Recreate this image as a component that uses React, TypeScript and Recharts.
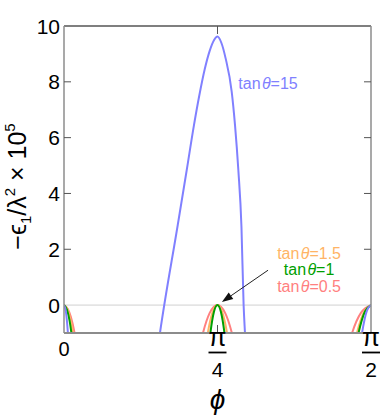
import React from "react";
import {
  LineChart,
  Line,
  XAxis,
  YAxis,
  ReferenceLine,
  ReferenceDot,
  Label,
} from "recharts";

const PI = Math.PI;

// x ticks (radians) and y ticks
const xTicks = [0, PI / 4, PI / 2];
const xTickNum = ["0", "π", "π"];
const xTickDen = ["", "4", "2"];
const yTicks = [0, 2, 4, 6, 8, 10];

// tanθ = 15 (blue)
const phiBlue = [0, 0.01, 0.02, 0.03, 0.25, 0.471, 0.491, 0.582, 0.628, 0.665, 0.692, 0.72, 0.745, 0.768, 0.785, 0.805, 0.827, 0.858, 0.875, 0.892, 0.908, 0.919, 0.926, 0.934, 1.2, 1.505, 1.525, 1.55, 1.5708];
const epsBlue = [0, -0.25, -1.0, -2.2, null, -2.0, -1.0, 2.87, 4.84, 6.45, 7.5, 8.45, 9.1, 9.5, 9.62, 9.4, 8.84, 7.65, 6.45, 4.84, 2.8, 0, -1.0, -2.0, null, -2.0, -1.0, -0.2, 0];

// tanθ = 0.5 (red)
const phiRed = [0, 0.02, 0.035, 0.054, 0.07, 0.3, 0.685, 0.711, 0.745, 0.785, 0.825, 0.859, 0.885, 1.2, 1.45, 1.474, 1.52, 1.5708];
const epsRed = [0, -0.15, -0.42, -1.0, -1.7, null, -1.8, -1.0, -0.29, 0, -0.29, -1.0, -1.8, null, -1.6, -1.0, -0.27, 0];

// tanθ = 1.5 (orange)
const phiOrange = [0, 0.02, 0.035, 0.046, 0.06, 0.3, 0.72, 0.736, 0.76, 0.785, 0.81, 0.834, 0.85, 1.2, 1.48, 1.499, 1.535, 1.5708];
const epsOrange = [0, -0.19, -0.58, -1.0, -1.7, null, -1.8, -1.0, -0.26, 0, -0.26, -1.0, -1.8, null, -1.6, -1.0, -0.25, 0];

// tanθ = 1 (green)
const phiGreen = [0, 0.015, 0.028, 0.038, 0.05, 0.3, 0.735, 0.749, 0.767, 0.785, 0.803, 0.821, 0.835, 1.2, 1.49, 1.507, 1.54, 1.5708];
const epsGreen = [0, -0.16, -0.54, -1.0, -1.7, null, -1.9, -1.0, -0.25, 0, -0.25, -1.0, -1.9, null, -1.6, -1.0, -0.23, 0];

const BLUE = "#8080ff";
const RED = "#ff8080";
const ORANGE = "#ffb466";
const GREEN = "#00a000";
const FRAME = "#8c8c8c";
const TICK = "#555";
const FONT = "'Liberation Sans', Arial, sans-serif";

const rows = (xs: number[], ys: (number | null)[]) =>
  xs.map((x, i) => ({ phi: x, v: ys[i] }));

const LeftTick = (props: any) => {
  const { x, y, payload } = props;
  const ax = x + 4;
  return (
    <g>
      <text x={x} y={y} dy="0.36em" textAnchor="end" fontSize={21} fontFamily={FONT} fill="#000">
        {payload.value}
      </text>
      {payload.value !== 10 && payload.value !== 0 ? (
        <line x1={ax} x2={ax + 7} y1={y} y2={y} stroke={TICK} strokeWidth={1} />
      ) : null}
    </g>
  );
};

const RightTick = (props: any) => {
  const { x, y, payload } = props;
  if (payload.value === 10 || payload.value === 0) return <g />;
  return <line x1={x} x2={x - 7} y1={y} y2={y} stroke={TICK} strokeWidth={1} />;
};

const BottomTick = (props: any) => {
  const { x, y, index } = props;
  const num = xTickNum[index];
  const den = xTickDen[index];
  return (
    <g fontFamily={FONT}>
      {index === 1 ? <line x1={x} x2={x} y1={y} y2={y - 8} stroke={TICK} strokeWidth={1} /> : null}
      {den === "" ? (
        <text x={x} y={y + 23} textAnchor="middle" fontSize={20} fill="#000">
          {num}
        </text>
      ) : (
        <g>
          <text x={x} y={y + 12.5} textAnchor="middle" fontSize={26} fill="#000">
            {num}
          </text>
          <line x1={x - 9} x2={x + 9} y1={y + 19.5} y2={y + 19.5} stroke="#000" strokeWidth={1.8} />
          <text x={x} y={y + 44} textAnchor="middle" fontSize={21} fill="#000">
            {den}
          </text>
        </g>
      )}
    </g>
  );
};

const TopTick = (props: any) => {
  const { x, y, index } = props;
  if (index !== 1) return <g />;
  return <line x1={x} x2={x} y1={y} y2={y + 8} stroke={TICK} strokeWidth={1} />;
};

const annot = (text: string, val: string, color: string) => (p: any) => (
  <text x={p.cx} y={p.cy} dy="0.35em" textAnchor="middle" fontSize={16} fontFamily={FONT} fill={color}>
    {text}
    <tspan fontStyle="italic">θ</tspan>={val}
  </text>
);

const Arrow = (p: any) => {
  const { x1, y1, x2, y2 } = p;
  const dx = x2 - x1;
  const dy = y2 - y1;
  const L = Math.sqrt(dx * dx + dy * dy) || 1;
  const ux = dx / L;
  const uy = dy / L;
  const hl = 11;
  const hw = 4;
  const bx = x2 - ux * hl;
  const by = y2 - uy * hl;
  return (
    <g>
      <line x1={x1} y1={y1} x2={bx} y2={by} stroke="#222" strokeWidth={1} />
      <polygon
        points={`${x2},${y2} ${bx - uy * hw},${by + ux * hw} ${bx + uy * hw},${by - ux * hw}`}
        fill="#111"
      />
    </g>
  );
};

const YLabel = (props: any) => {
  const vb = props.viewBox || { x: 0, y: 26, width: 64, height: 307 };
  const cx = 26;
  const cy = vb.y + vb.height / 2 + 7;
  return (
    <text
      transform={`translate(${cx},${cy}) rotate(-90)`}
      x={0}
      y={0}
      textAnchor="middle"
      fontSize={25}
      fontFamily={FONT}
      fill="#000"
    >
      −ϵ
      <tspan fontSize={15} dy={5}>1</tspan>
      <tspan dy={-5}>/λ</tspan>
      <tspan fontSize={15} dy={-11}>2</tspan>
      <tspan dy={11}> × 10</tspan>
      <tspan fontSize={15} dy={-11}>5</tspan>
    </text>
  );
};

const XLabel = (props: any) => {
  const vb = props.viewBox || { x: 64, y: 333, width: 307, height: 82 };
  return (
    <text
      x={vb.x + vb.width / 2}
      y={vb.y + 76}
      textAnchor="middle"
      fontSize={28}
      fontStyle="italic"
      fontFamily={FONT}
      fill="#000"
    >
      ϕ
    </text>
  );
};

export default function App() {
  return (
    <div style={{ position: "absolute", left: 0, top: 0, width: 382, height: 415 }}>
      <LineChart
        width={382}
        height={415}
        margin={{ top: 25, right: 10, left: 0, bottom: 0 }}
      >
        <XAxis
          xAxisId="b"
          type="number"
          dataKey="phi"
          domain={[0, PI / 2]}
          ticks={xTicks}
          allowDataOverflow
          height={82}
          tickSize={0}
          tickMargin={0}
          tickLine={false}
          axisLine={{ stroke: FRAME, strokeWidth: 2 }}
          tick={<BottomTick />}
          interval={0}
        >
          <Label content={<XLabel />} />
        </XAxis>
        <XAxis
          xAxisId="t"
          orientation="top"
          type="number"
          dataKey="phi"
          domain={[0, PI / 2]}
          ticks={xTicks}
          allowDataOverflow
          height={1}
          tickSize={0}
          tickMargin={0}
          tickLine={false}
          axisLine={{ stroke: "#555", strokeWidth: 1.5 }}
          tick={<TopTick />}
          interval={0}
        />
        <YAxis
          yAxisId="l"
          type="number"
          domain={[-1, 10]}
          ticks={yTicks}
          allowDataOverflow
          width={64}
          tickSize={0}
          tickMargin={4}
          tickLine={false}
          axisLine={{ stroke: FRAME, strokeWidth: 1.5 }}
          tick={<LeftTick />}
          interval={0}
        >
          <Label content={<YLabel />} />
        </YAxis>
        <YAxis
          yAxisId="r"
          orientation="right"
          type="number"
          domain={[-1, 10]}
          ticks={yTicks}
          allowDataOverflow
          width={1}
          tickSize={0}
          tickMargin={0}
          tickLine={false}
          axisLine={{ stroke: FRAME, strokeWidth: 1.5 }}
          tick={<RightTick />}
          interval={0}
        />
        <ReferenceLine xAxisId="b" yAxisId="l" y={0} stroke="#d0d0d0" strokeWidth={1} />
        <Line
          xAxisId="b"
          yAxisId="l"
          data={rows(phiRed, epsRed)}
          dataKey="v"
          type="monotone"
          stroke={RED}
          strokeWidth={2}
          dot={false}
          connectNulls={false}
          isAnimationActive={false}
        />
        <Line
          xAxisId="b"
          yAxisId="l"
          data={rows(phiOrange, epsOrange)}
          dataKey="v"
          type="monotone"
          stroke={ORANGE}
          strokeWidth={2}
          dot={false}
          connectNulls={false}
          isAnimationActive={false}
        />
        <Line
          xAxisId="b"
          yAxisId="l"
          data={rows(phiGreen, epsGreen)}
          dataKey="v"
          type="monotone"
          stroke={GREEN}
          strokeWidth={2}
          dot={false}
          connectNulls={false}
          isAnimationActive={false}
        />
        <Line
          xAxisId="b"
          yAxisId="l"
          data={rows(phiBlue, epsBlue)}
          dataKey="v"
          type="monotone"
          stroke={BLUE}
          strokeWidth={2}
          dot={false}
          connectNulls={false}
          isAnimationActive={false}
        />
        <ReferenceLine
          xAxisId="b"
          yAxisId="l"
          segment={[
            { x: 1.044, y: 1.25 },
            { x: 0.808, y: 0.11 },
          ]}
          shape={<Arrow />}
        />
        <ReferenceDot xAxisId="b" yAxisId="l" x={1.044} y={7.96} r={0} shape={annot("tan\u200A", "15", BLUE)} />
        <ReferenceDot xAxisId="b" yAxisId="l" x={1.254} y={1.86} r={0} shape={annot("tan\u200A", "1.5", ORANGE)} />
        <ReferenceDot xAxisId="b" yAxisId="l" x={1.254} y={1.29} r={0} shape={annot("tan\u200A", "1", GREEN)} />
        <ReferenceDot xAxisId="b" yAxisId="l" x={1.254} y={0.68} r={0} shape={annot("tan\u200A", "0.5", RED)} />
      </LineChart>
    </div>
  );
}
